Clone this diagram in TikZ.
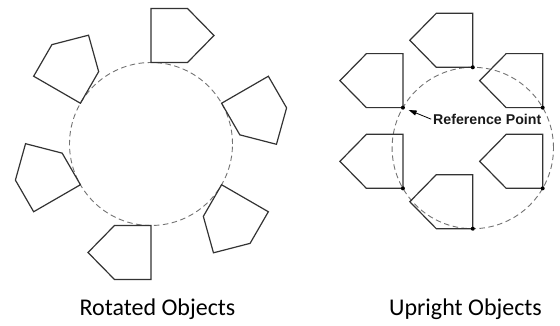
\documentclass[tikz,border=0pt]{standalone}
\usepackage{fontspec}
\setmainfont{Carlito}
\newfontfamily\labelfont{Liberation Sans}
\usetikzlibrary{arrows.meta}
\tikzset{
  pentline/.style={draw=black!80, line width=1.2pt, line join=miter},
  guide/.style={draw=black!55, line width=0.9pt, dash pattern=on 5.5pt off 3.5pt},
  refdot/.style={circle, fill=black, inner sep=0pt, minimum size=4pt},
  caption/.style={font=\fontsize{24}{28}\selectfont, text=black, inner sep=0pt, anchor=base},
  reflabel/.style={font=\labelfont\bfseries\fontsize{14.2}{16}\selectfont, text=black!90, inner sep=0pt, anchor=base west},
  refarrow/.style={draw=black, line width=0.8pt, -{Triangle[length=8pt,width=5pt]}, shorten >=4pt, shorten <=2pt},
  rotpent/.pic={\draw[pentline] (0,0) -- (0,54) -- (36.5,54) -- (63,27) -- (36.5,0) -- cycle;},
  uppent/.pic={\draw[pentline] (0,0) -- (0,54) -- (-36.5,54) -- (-63,27) -- (-36.5,0) -- cycle;}
}
\begin{document}
\begin{tikzpicture}[x=1pt,y=1pt]
\useasboundingbox (0,0) rectangle (560,326);
% left: rotated objects
\coordinate (L) at (151,182);
\draw[guide] (L) circle[radius=81.5];
\foreach \a in {90,30,-30,-90,-150,150}{
  \pic[shift={(\a:81.5)}, rotate=\a-90] at (L) {rotpent};
}
% right: upright objects
\coordinate (R) at (472.8,178);
\draw[guide] (R) circle[radius=80.7];
\foreach \a/\n in {90/t,30/tr,-30/br,-90/b,-150/bl,150/tl}{
  \pic at ([shift={(\a:80.7)}]R) {uppent};
  \node[refdot] (d\n) at ([shift={(\a:80.7)}]R) {};
}
\node[reflabel] (ref) at (433,201) {Reference Point};
\draw[refarrow] (ref.west) -- (dtl);
% captions
\node[caption] (capL) at (157.5,10) {Rotated Objects};
\node[caption] (capR) at (465.5,10) {Upright Objects};
\end{tikzpicture}
\end{document}
